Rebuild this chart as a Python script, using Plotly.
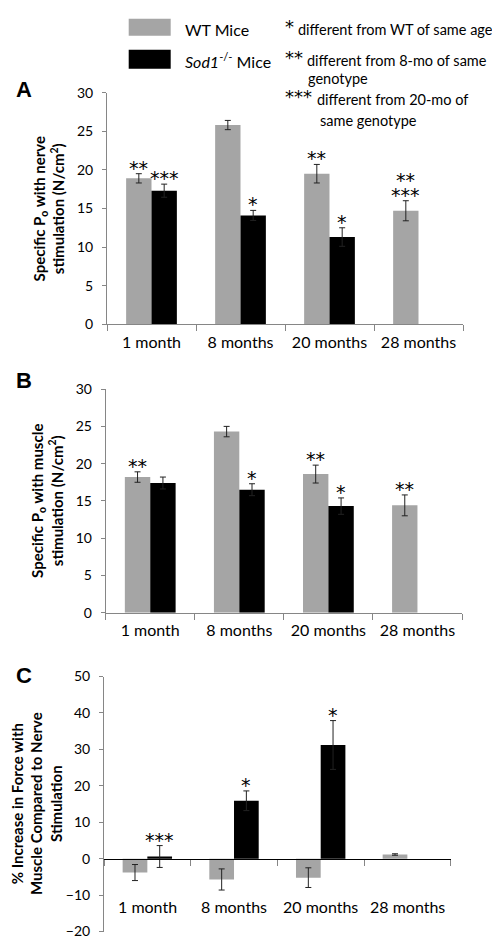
import plotly.graph_objects as go

categories = ["1 month", "8 months", "20 months", "28 months"]

nerve_wt = [18.9, 25.8, 19.5, 14.7]
nerve_wt_err = [0.6, 0.6, 1.2, 1.3]
nerve_ko = [17.3, 14.1, 11.3, None]
nerve_ko_err = [0.85, 0.65, 1.2, 0]
nerve_wt_sig = ["**", "", "**", "***|**"]
nerve_ko_sig = ["***", "*", "*", ""]

muscle_wt = [18.2, 24.3, 18.6, 14.4]
muscle_wt_err = [0.7, 0.7, 1.2, 1.4]
muscle_ko = [17.4, 16.5, 14.3, None]
muscle_ko_err = [0.8, 0.8, 1.1, 0]
muscle_wt_sig = ["**", "", "**", "**"]
muscle_ko_sig = ["", "*", "*", ""]

pct_wt = [-3.8, -5.7, -5.2, 1.15]
pct_wt_err = [2.2, 2.9, 2.7, 0.2]
pct_ko = [0.6, 15.9, 31.2, None]
pct_ko_err = [3.0, 2.7, 6.7, 0]
pct_wt_sig = ["", "", "", ""]
pct_ko_sig = ["***", "*", "*", ""]

legend_labels = ["WT Mice", "<i>Sod1</i><sup>-/-</sup> Mice"]
footnote_marks = ["*", "**", "", "***", ""]
footnote_texts = ["different from WT of same age", "different from 8-mo of same",
                  "genotype", "different from 20-mo of", "same genotype"]

WT_COLOR = "#a5a5a5"
KO_COLOR = "#000000"
AXIS_COLOR = "#868686"
FONT = "Lato"
STAR_FONT = "DejaVu Sans"
BARGAP = 0.43
W, H = 500, 936


def px_x(p):
    return p / W


def px_y(p):
    return 1 - p / H


panels = [
    dict(wt=nerve_wt, wte=nerve_wt_err, ko=nerve_ko, koe=nerve_ko_err,
         wts=nerve_wt_sig, kos=nerve_ko_sig, xd=[99, 455], yd=[313, 77],
         rng=[0, 30], dt=5, letter="A", ly=74,
         title="Specific P<sub>o</sub> with nerve<br>stimulation (N/cm<sup>2</sup>)", tx=41),
    dict(wt=muscle_wt, wte=muscle_wt_err, ko=muscle_ko, koe=muscle_ko_err,
         wts=muscle_wt_sig, kos=muscle_ko_sig, xd=[97.7, 454], yd=[606.7, 379],
         rng=[0, 30], dt=5, letter="B", ly=370,
         title="Specific P<sub>o</sub> with muscle<br>stimulation (N/cm<sup>2</sup>)", tx=39),
    dict(wt=pct_wt, wte=pct_wt_err, ko=pct_ko, koe=pct_ko_err,
         wts=pct_wt_sig, kos=pct_ko_sig, xd=[96, 442.7], yd=[931.5, 671.7],
         rng=[-20, 50], dt=10, letter="C", ly=671,
         title="% Increase in Force with<br>Muscle Compared to Nerve<br>Stimulation", tx=28),
]

fig = go.Figure()
annotations = []
shapes = []
layout = {}
off = (1 - BARGAP) / 4

for k, p in enumerate(panels, start=1):
    xa = "x" if k == 1 else f"x{k}"
    ya = "y" if k == 1 else f"y{k}"
    for vals, errs, col, sig, sgn in [(p["wt"], p["wte"], WT_COLOR, p["wts"], -1),
                                       (p["ko"], p["koe"], KO_COLOR, p["kos"], 1)]:
        fig.add_trace(go.Bar(
            x=categories, y=vals, marker=dict(color=col, line=dict(width=0)),
            error_y=dict(type="data", array=errs, visible=True, color="#222222",
                         thickness=1, width=3),
            xaxis=xa, yaxis=ya, showlegend=False))
        for i, s in enumerate(sig):
            if not s:
                continue
            v = vals[i]
            e = errs[i]
            top = max(v + e, 0) if v is not None else 0
            for j, part in enumerate(s.split("|")):
                annotations.append(dict(
                    x=i + sgn * off, y=top, xref=xa, yref=ya, text=part,
                    showarrow=False, yanchor="bottom", yshift=-7 + 15 * j,
                    font=dict(family=STAR_FONT, size=19, color="#000")))
    xdom = [px_x(p["xd"][0]), px_x(p["xd"][1])]
    ydom = [px_y(p["yd"][0]), px_y(p["yd"][1])]
    xkey = "xaxis" if k == 1 else f"xaxis{k}"
    ykey = "yaxis" if k == 1 else f"yaxis{k}"
    xax = dict(domain=xdom, anchor=ya, type="category", categoryarray=categories,
               range=[-0.5, len(categories) - 0.5], showline=True, linewidth=1,
               linecolor=AXIS_COLOR, ticks="outside", ticklen=6, tickcolor=AXIS_COLOR,
               tickson="boundaries", showgrid=False, zeroline=False,
               tickfont=dict(family=FONT, size=16, color="#000"),
               ticklabelstandoff=3)
    if p["rng"][0] < 0:
        frac = (0 - p["rng"][0]) / (p["rng"][1] - p["rng"][0])
        xax.update(anchor="free", position=ydom[0] + frac * (ydom[1] - ydom[0]),
                   linecolor="#000", showticklabels=False)
        for i, c in enumerate(categories):
            annotations.append(dict(x=i, y=-13, xref=xa, yref=ya, text=c,
                                    showarrow=False,
                                    font=dict(family=FONT, size=16, color="#000")))
    layout[xkey] = xax
    layout[ykey] = dict(domain=ydom, anchor=xa, range=p["rng"], dtick=p["dt"],
                        showline=True, linewidth=1, linecolor=AXIS_COLOR,
                        ticks="outside", ticklen=4, tickcolor=AXIS_COLOR,
                        showgrid=False, zeroline=False,
                        tickfont=dict(family=FONT, size=14, color="#000"),
                        ticklabelstandoff=6)
    annotations.append(dict(x=px_x(16), y=px_y(p["ly"]), xref="paper", yref="paper",
                            xanchor="center", yanchor="middle",
                            text=f"<b>{p['letter']}</b>", showarrow=False,
                            font=dict(family="Liberation Sans", size=22, color="#000")))
    annotations.append(dict(x=px_x(p["tx"]), y=(ydom[0] + ydom[1]) / 2, xref="paper",
                            yref="paper", xanchor="center", yanchor="middle",
                            text=f"<b>{p['title']}</b>", showarrow=False,
                            textangle=-90, borderpad=0,
                            font=dict(family=FONT, size=15, color="#000")))

# legend swatches
shapes.append(dict(type="rect", xref="paper", yref="paper", x0=px_x(120.7), x1=px_x(162.7),
                   y0=px_y(19), y1=px_y(1.7), fillcolor=WT_COLOR, line=dict(width=0)))
shapes.append(dict(type="rect", xref="paper", yref="paper", x0=px_x(120.7), x1=px_x(162.7),
                   y0=px_y(52.7), y1=px_y(33.3), fillcolor=KO_COLOR, line=dict(width=0)))

for t, y in zip(legend_labels, [13, 44]):
    annotations.append(dict(x=px_x(175), y=px_y(y), xref="paper", yref="paper", text=t,
                            showarrow=False, xanchor="left", yanchor="middle",
                            font=dict(family=FONT, size=16, color="#000")))

foot_y = [13, 44, 63, 84, 105]
foot_x = [288, 297, 298, 307, 310]
for m, t, y, x in zip(footnote_marks, footnote_texts, foot_y, foot_x):
    if m:
        annotations.append(dict(x=px_x(275), y=px_y(y - 3), xref="paper", yref="paper",
                                text=m, showarrow=False, xanchor="left", yanchor="middle",
                                font=dict(family=STAR_FONT, size=18, color="#000")))
    annotations.append(dict(x=px_x(x), y=px_y(y), xref="paper", yref="paper", text=t,
                            showarrow=False, xanchor="left", yanchor="middle",
                            font=dict(family=FONT, size=14.5, color="#000")))

fig.update_layout(
    width=W, height=H, margin=dict(l=0, r=0, t=0, b=0),
    paper_bgcolor="white", plot_bgcolor="white",
    barmode="group", bargap=BARGAP, bargroupgap=0,
    annotations=annotations, shapes=shapes, showlegend=False,
    **layout)

fig.write_html("out.html")
